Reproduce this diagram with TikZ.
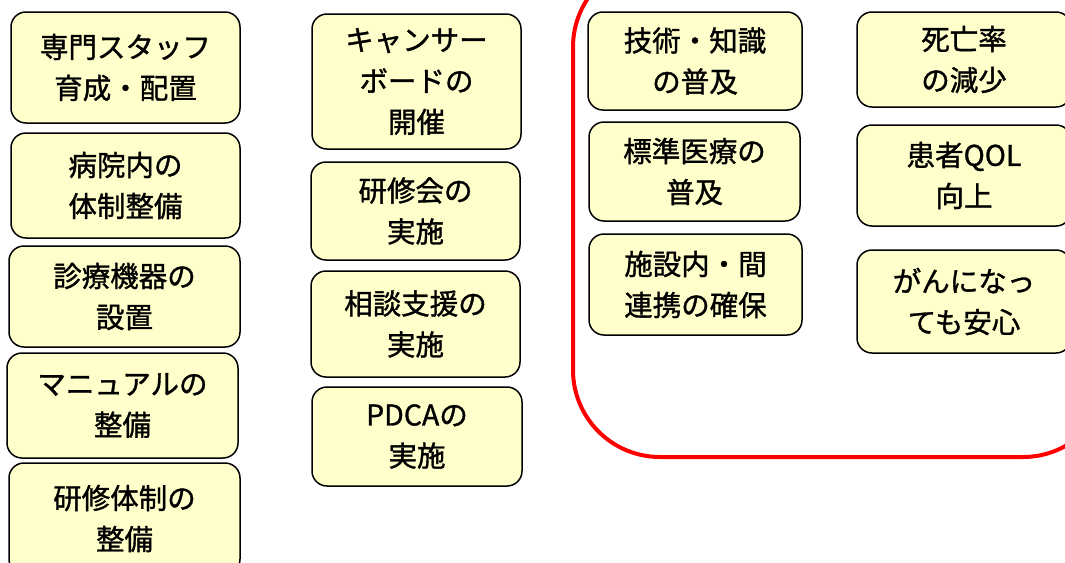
\documentclass[tikz,border=0pt]{standalone}
\usepackage{fontspec}
\setmainfont{Noto Sans CJK JP}[BoldFont={Noto Sans CJK JP}, BoldFeatures={FakeBold=1.2}]
\definecolor{boxfill}{HTML}{FFFFCC}
\tikzset{
  box/.style={draw=black, line width=1.5pt, fill=boxfill, rounded corners=15pt,
    align=center, inner sep=0pt, font=\fontsize{28.5}{41}\selectfont\bfseries},
  frame/.style={draw=red, line width=4pt, rounded corners=87pt}
}
\begin{document}
\begin{tikzpicture}[x=1pt,y=-1pt]
\useasboundingbox (0,0) rectangle (1065,562);
\draw[frame] (573,-40) rectangle (1110,457);
% column 1
\node[box, minimum width=229, minimum height=111] (b1) at (125.5,67.5) {専門スタッフ\\育成・配置};
\node[box, minimum width=229, minimum height=105] (b2) at (125.5,185.5) {病院内の\\体制整備};
\node[box, minimum width=231, minimum height=101] (b3) at (124.5,296.5) {診療機器の\\設置};
\node[box, minimum width=231, minimum height=105] (b4) at (122.5,405.5) {マニュアルの\\整備};
\node[box, minimum width=231, minimum height=111] (b5) at (124.5,518.5) {研修体制の\\整備};
% column 2
\node[box, minimum width=209, minimum height=135] (b6) at (416.5,81.5) {キャンサー\\ボードの\\開催};
\node[box, minimum width=209, minimum height=98] (b7) at (415.5,211) {研修会の\\実施};
\node[box, minimum width=209, minimum height=106] (b8) at (415.5,324) {相談支援の\\実施};
\node[box, minimum width=210, minimum height=99] (b9) at (417,436.5) {PDCAの\\実施};
% column 3
\node[box, minimum width=214, minimum height=98] (b10) at (695,61) {技術・知識\\の普及};
\node[box, minimum width=211, minimum height=99] (b11) at (694.5,171.5) {標準医療の\\普及};
\node[box, minimum width=213, minimum height=101] (b12) at (695.5,284.5) {施設内・間\\連携の確保};
% column 4
\node[box, minimum width=214, minimum height=95] (b13) at (964,59.5) {死亡率\\の減少};
\node[box, minimum width=214, minimum height=101] (b14) at (964,175.5) {患者QOL\\向上};
\node[box, minimum width=214, minimum height=103] (b15) at (964,301.5) {がんになっ\\ても安心};
\end{tikzpicture}
\end{document}
